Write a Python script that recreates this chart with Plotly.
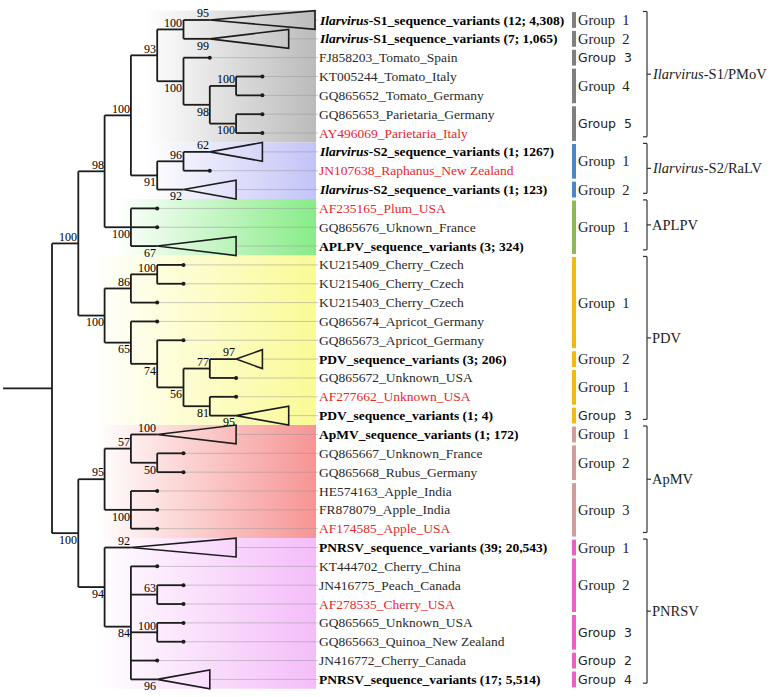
import plotly.graph_objects as go

# ---------------- data ----------------
LEAF_LABELS = [
    "<b><i>Ilarvirus</i>-S1_sequence_variants (12; 4,308)</b>",
    "<b><i>Ilarvirus</i>-S1_sequence_variants (7; 1,065)</b>",
    "FJ858203_Tomato_Spain",
    "KT005244_Tomato_Italy",
    "GQ865652_Tomato_Germany",
    "GQ865653_Parietaria_Germany",
    "AY496069_Parietaria_Italy",
    "<b><i>Ilarvirus</i>-S2_sequence_variants (1; 1267)</b>",
    "JN107638_Raphanus_New Zealand",
    "<b><i>Ilarvirus</i>-S2_sequence_variants (1; 123)</b>",
    "AF235165_Plum_USA",
    "GQ865676_Uknown_France",
    "<b>APLPV_sequence_variants (3; 324)</b>",
    "KU215409_Cherry_Czech",
    "KU215406_Cherry_Czech",
    "KU215403_Cherry_Czech",
    "GQ865674_Apricot_Germany",
    "GQ865673_Apricot_Germany",
    "<b>PDV_sequence_variants (3; 206)</b>",
    "GQ865672_Unknown_USA",
    "AF277662_Unknown_USA",
    "<b>PDV_sequence_variants (1; 4)</b>",
    "<b>ApMV_sequence_variants (1; 172)</b>",
    "GQ865667_Unknown_France",
    "GQ865668_Rubus_Germany",
    "HE574163_Apple_India",
    "FR878079_Apple_India",
    "AF174585_Apple_USA",
    "<b>PNRSV_sequence_variants (39; 20,543)</b>",
    "KT444702_Cherry_China",
    "JN416775_Peach_Canada",
    "AF278535_Cherry_USA",
    "GQ865665_Unknown_USA",
    "GQ865663_Quinoa_New Zealand",
    "JN416772_Cherry_Canada",
    "<b>PNRSV_sequence_variants (17; 5,514)</b>",
]
REFERENCE_ROWS = [6, 8, 10, 20, 27, 31]          # red labels
# extent (in tree levels) of each collapsed clade triangle, 0 = single sequence
CLADE_SPAN = [4, 3, 0, 0, 0, 0, 0, 2, 0, 2, 0, 0, 3, 0, 0, 0, 0, 0,
              1, 0, 0, 2, 3, 0, 0, 0, 0, 0, 4, 0, 0, 0, 0, 0, 0, 2]
# tree: [bootstrap, child, child, ...]; leaf = row or (row, bootstrap)
TREE = [None,
        [100,
         [98,
          [100,
           [93,
            [100, (0, 95), (1, 99)],
            [100, 2, [98, [100, 3, 4], [100, 5, 6]]]],
           [91,
            [96, (7, 62), 8],
            (9, 92)]],
          [100, 10, 11, (12, 67)]],
         [100,
          [86, [100, 13, 14], 15],
          [65, 16, [74, 17, [56, [77, (18, 97), 19], [81, 20, (21, 95)]]]]]],
        [100,
         [95,
          [57, (22, 100), [50, 23, 24]],
          [100, 25, 26, 27]],
         [94,
          (28, 92),
          [84, 29, [63, 30, 31], [100, 32, 33], 34, (35, 96)]]]]

VIRUS_NAMES = ["<i>Ilarvirus</i>-S1/PMoV", "<i>Ilarvirus</i>-S2/RaLV", "APLPV",
               "PDV", "ApMV", "PNRSV"]
VIRUS_FIRST_ROW = [0, 7, 10, 13, 22, 28]
VIRUS_LAST_ROW = [6, 9, 12, 21, 27, 35]

GROUP_VIRUS = [0, 0, 0, 0, 0, 1, 1, 2, 3, 3, 3, 3, 4, 4, 4, 5, 5, 5, 5, 5]
GROUP_NUMBER = [1, 2, 3, 4, 5, 1, 2, 1, 1, 2, 1, 3, 1, 2, 3, 1, 2, 3, 2, 4]
GROUP_FIRST_ROW = [0, 1, 2, 3, 5, 7, 9, 10, 13, 18, 19, 21, 22, 23, 25, 28, 29, 32, 34, 35]
GROUP_LAST_ROW = [0, 1, 2, 4, 6, 8, 9, 12, 17, 18, 20, 21, 22, 24, 27, 28, 31, 33, 34, 35]

# ---------------- style ----------------
W, H = 773, 697
X0_PX, DX_PX = 52.0, 26.3        # pixel of root, pixels per tree level
Y0_PX, DY_PX = 20.0, 18.84       # pixel of first row, pixels per row
ROOT_STEM = -1.86
SHADE_COLORS = ["#BBBBBB", "#C3C3F8", "#88EC88", "#FAFA96", "#F79494", "#F4BDF9"]
SHADE_START_PX = [146, 146, 116, 90, 96, 96]
BAR_COLORS = ["#808080", "#4A88CC", "#8CBA55", "#F5BA12", "#D39C9C", "#EE5ECB"]
GROUP_SANS = {2, 4, 11, 17, 18, 19}
SERIF = "Liberation Serif, Times New Roman, serif"
SANS = "DejaVu Sans, Verdana, sans-serif"


def px2x(p):
    return (p - X0_PX) / DX_PX


LABEL_END = px2x(318)
SHADE_END = px2x(316)

branch_x, branch_y = [], []
tri_x, tri_y = [], []
tip_x, tip_y = [], []
conn_x, conn_y = [], []
boots = []


def support_of(node):
    if isinstance(node, list):
        return node[0]
    if isinstance(node, tuple):
        return node[1]
    return None


def place(node, depth):
    """returns the y (row) of node drawn at tree level depth"""
    if isinstance(node, list):
        children = node[1:]
        ys = [place(ch, depth + 1) for ch in children]
        y = sum(ys) / len(ys)
        branch_x.extend([depth, depth, None])
        branch_y.extend([min(ys), max(ys), None])
        for i, (ch, cy) in enumerate(zip(children, ys)):
            branch_x.extend([depth, depth + 1, None])
            branch_y.extend([cy, cy, None])
            bs = support_of(ch)
            if bs is not None:
                boots.append((depth + 1, cy, bs, i == len(children) - 1))
        return y
    row = node[0] if isinstance(node, tuple) else node
    span = CLADE_SPAN[row]
    if span > 0:
        tri_x.extend([depth, depth + span, depth + span, depth, None])
        tri_y.extend([row, row - 0.5, row + 0.5, row, None])
        end = depth + span
    else:
        tip_x.append(depth)
        tip_y.append(row)
        end = depth
    if end < LABEL_END:
        conn_x.extend([end, LABEL_END, None])
        conn_y.extend([row, row, None])
    return row


root_y = place(TREE, 0)
branch_x.extend([ROOT_STEM, 0, None])
branch_y.extend([root_y, root_y, None])

fig = go.Figure()

# shaded virus blocks
for v in range(len(VIRUS_NAMES)):
    x0 = px2x(SHADE_START_PX[v])
    top, bot = VIRUS_FIRST_ROW[v] - 0.5, VIRUS_LAST_ROW[v] + 0.5
    fig.add_trace(go.Scatter(
        x=[x0, SHADE_END, SHADE_END, x0, x0], y=[top, top, bot, bot, top],
        mode="lines", line=dict(width=0), fill="toself",
        fillgradient=dict(type="horizontal",
                          colorscale=[[0, "#FFFFFF"], [1, SHADE_COLORS[v]]],
                          start=x0, stop=SHADE_END),
        hoverinfo="skip"))

fig.add_trace(go.Scatter(x=conn_x, y=conn_y, mode="lines",
                         line=dict(color="rgba(150,150,150,0.7)", width=0.7),
                         hoverinfo="skip"))
fig.add_trace(go.Scatter(x=branch_x, y=branch_y, mode="lines",
                         line=dict(color="#1c1c1c", width=1.8), hoverinfo="skip"))
fig.add_trace(go.Scatter(x=tri_x, y=tri_y, mode="lines",
                         line=dict(color="#1c1c1c", width=1.6), hoverinfo="skip"))
fig.add_trace(go.Scatter(x=tip_x, y=tip_y, mode="markers",
                         marker=dict(color="#1c1c1c", size=4), hoverinfo="skip"))

ann = []
for (bx, by, bs, below) in boots:
    ann.append(dict(x=bx - 0.04, y=by + (0.36 if below else -0.36), text=str(bs),
                    xanchor="right", yanchor="middle", showarrow=False,
                    borderpad=0, borderwidth=0,
                    font=dict(family=SERIF, size=12, color="#000000")))

for r, lab in enumerate(LEAF_LABELS):
    col = "#E8262B" if r in REFERENCE_ROWS else ("#000000" if "<b>" in lab else "#2a2a2a")
    ann.append(dict(x=px2x(319), y=r, text=lab, xanchor="left", yanchor="middle",
                    showarrow=False, borderpad=0, borderwidth=0,
                    font=dict(family=SERIF, size=13.5, color=col)))

shapes = []
for g in range(len(GROUP_NUMBER)):
    v = GROUP_VIRUS[g]
    f, l = GROUP_FIRST_ROW[g], GROUP_LAST_ROW[g]
    shapes.append(dict(type="rect", xref="x", yref="y",
                       x0=px2x(572), x1=px2x(576), y0=f - 0.42, y1=l + 0.42,
                       fillcolor=BAR_COLORS[v], line=dict(width=0)))
    sans = g in GROUP_SANS
    ann.append(dict(x=px2x(578), y=(f + l) / 2, text="Group\u00a0\u00a0" + str(GROUP_NUMBER[g]),
                    xanchor="left", yanchor="middle", showarrow=False,
                    borderpad=0, borderwidth=0,
                    font=dict(family=SANS if sans else SERIF, size=12.5 if sans else 14.5,
                              color="#222222")))

bx = px2x(647)
for v in range(len(VIRUS_NAMES)):
    top = VIRUS_FIRST_ROW[v] - 0.45
    bot = VIRUS_LAST_ROW[v] + 0.2
    mid = (top + bot) / 2
    ln = dict(color="#333333", width=1.2)
    shapes.append(dict(type="line", xref="x", yref="y", x0=bx, x1=bx, y0=top, y1=bot, line=ln))
    shapes.append(dict(type="line", xref="x", yref="y", x0=px2x(643), x1=bx, y0=top, y1=top, line=ln))
    shapes.append(dict(type="line", xref="x", yref="y", x0=px2x(643), x1=bx, y0=bot, y1=bot, line=ln))
    shapes.append(dict(type="line", xref="x", yref="y", x0=bx, x1=px2x(651), y0=mid, y1=mid, line=ln))
    ann.append(dict(x=px2x(652), y=mid, text=VIRUS_NAMES[v], xanchor="left", yanchor="middle",
                    showarrow=False, borderpad=0, borderwidth=0,
                    font=dict(family=SERIF, size=14.5, color="#222222")))

fig.update_layout(
    width=W, height=H, margin=dict(l=0, r=0, t=0, b=0),
    paper_bgcolor="white", plot_bgcolor="white", showlegend=False,
    xaxis=dict(visible=False, range=[-X0_PX / DX_PX, (W - X0_PX) / DX_PX], fixedrange=True),
    yaxis=dict(visible=False, range=[(H - Y0_PX) / DY_PX, -Y0_PX / DY_PX], fixedrange=True),
    annotations=ann, shapes=shapes,
)
fig.write_html("out.html", config={"displayModeBar": False},
               post_script="document.body.style.margin='0';")
